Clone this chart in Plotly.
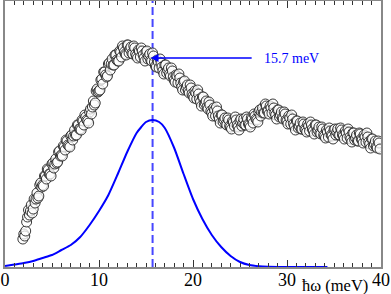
import plotly.graph_objects as go

# Measured spectrum (open circles), arbitrary intensity units — two interleaved scans
data_x = [1.9, 2.0, 2.2, 2.4, 2.6, 2.8, 3.0, 3.2, 3.4, 3.6, 3.8, 4.0, 4.2, 4.4, 4.6, 4.8,
          5.0, 5.2, 5.4, 5.6, 5.8, 6.0, 6.2, 6.4, 6.6, 6.8, 7.0, 7.2, 7.4, 7.6, 7.8,
          8.0, 8.2, 8.4, 8.6, 8.8, 9.0, 9.2, 9.4, 9.6, 9.8, 10.0, 10.2, 10.4, 10.6, 10.8,
          11.0, 11.2, 11.4, 11.6, 11.8, 12.0, 12.2, 12.4, 12.6, 12.8, 13.0, 13.2, 13.4, 13.6, 13.8,
          14.0, 14.2, 14.4, 14.6, 14.8, 15.0, 15.2, 15.4, 15.6, 15.8, 16.0, 16.2, 16.4, 16.6, 16.8,
          17.0, 17.2, 17.4, 17.6, 17.8, 18.0, 18.2, 18.4, 18.6, 18.8, 19.0, 19.2, 19.4, 19.6, 19.8,
          20.0, 20.2, 20.4, 20.6, 20.8, 21.0, 21.2, 21.4, 21.6, 21.8, 22.0, 22.2, 22.4, 22.6, 22.8,
          23.0, 23.2, 23.4, 23.6, 23.8, 24.0, 24.2, 24.4, 24.6, 24.8, 25.0, 25.2, 25.4, 25.6, 25.8,
          26.0, 26.2, 26.4, 26.6, 26.8, 27.0, 27.2, 27.4, 27.6, 27.8, 28.0, 28.2, 28.4, 28.6, 28.8,
          29.0, 29.2, 29.4, 29.6, 29.8, 30.0, 30.2, 30.4, 30.6, 30.8, 31.0, 31.2, 31.4, 31.6, 31.8,
          32.0, 32.2, 32.4, 32.6, 32.8, 33.0, 33.2, 33.4, 33.6, 33.8, 34.0, 34.2, 34.4, 34.6, 34.8,
          35.0, 35.2, 35.4, 35.6, 35.8, 36.0, 36.2, 36.4, 36.6, 36.8, 37.0, 37.2, 37.4, 37.6, 37.8,
          38.0, 38.2, 38.4, 38.6, 38.8, 39.0, 39.2, 39.4, 39.6, 39.8]
data_y = [28, 33, 36, 50, 52, 62, 58, 64, 74, 71, 84, 82, 91, 88, 97, 93,
          103, 99, 108, 105, 116, 112, 121, 117, 126, 121, 131, 127, 137, 132, 142,
          138, 147, 142, 150, 146, 155, 153, 166, 164, 178, 176, 187, 183, 195, 190,
          203, 197, 208, 202, 212, 206, 216, 210, 219, 213, 222, 214, 220, 213, 219,
          211, 217, 210, 216, 209, 215, 208, 213, 206, 211, 201, 207, 199, 204, 196,
          202, 194, 199, 191, 196, 187, 192, 184, 189, 180, 185, 177, 182, 174, 179,
          171, 176, 168, 173, 165, 170, 162, 166, 158, 162, 154, 159, 151, 156, 148,
          152, 145, 149, 142, 147, 140, 146, 141, 147, 140, 146, 141, 148, 142, 148,
          142, 149, 144, 151, 147, 155, 151, 159, 154, 161, 156, 161, 154, 159, 152,
          157, 150, 155, 148, 153, 146, 151, 143, 148, 141, 146, 139, 144, 138, 143,
          137, 143, 136, 142, 136, 142, 135, 140, 133, 138, 131, 137, 130, 136, 131,
          137, 132, 138, 132, 137, 131, 136, 129, 135, 128, 134, 127, 132, 126, 133,
          127, 132, 125, 130, 123, 128, 121, 126, 119, 124]

data_x2 = [2.1, 2.3, 2.5, 2.7, 2.9, 3.1, 3.3, 3.5, 3.7, 3.9, 4.1, 4.3, 4.5, 4.7, 4.9,
           5.1, 5.3, 5.5, 5.7, 5.9, 6.1, 6.3, 6.5, 6.7, 6.9, 7.1, 7.3, 7.5, 7.7, 7.9,
           8.1, 8.3, 8.5, 8.7, 8.9, 9.1, 9.3, 9.5, 9.7, 9.9, 10.1, 10.3, 10.5, 10.7, 10.9,
           11.1, 11.3, 11.5, 11.7, 11.9, 12.1, 12.3, 12.5, 12.7, 12.9, 13.1, 13.3, 13.5, 13.7, 13.9,
           14.1, 14.3, 14.5, 14.7, 14.9, 15.1, 15.3, 15.5, 15.7, 15.9, 16.1, 16.3, 16.5, 16.7, 16.9,
           17.1, 17.3, 17.5, 17.7, 17.9, 18.1, 18.3, 18.5, 18.7, 18.9, 19.1, 19.3, 19.5, 19.7, 19.9,
           20.1, 20.3, 20.5, 20.7, 20.9, 21.1, 21.3, 21.5, 21.7, 21.9, 22.1, 22.3, 22.5, 22.7, 22.9,
           23.1, 23.3, 23.5, 23.7, 23.9, 24.1, 24.3, 24.5, 24.7, 24.9, 25.1, 25.3, 25.5, 25.7, 25.9,
           26.1, 26.3, 26.5, 26.7, 26.9, 27.1, 27.3, 27.5, 27.7, 27.9, 28.1, 28.3, 28.5, 28.7, 28.9,
           29.1, 29.3, 29.5, 29.7, 29.9, 30.1, 30.3, 30.5, 30.7, 30.9, 31.1, 31.3, 31.5, 31.7, 31.9,
           32.1, 32.3, 32.5, 32.7, 32.9, 33.1, 33.3, 33.5, 33.7, 33.9, 34.1, 34.3, 34.5, 34.7, 34.9,
           35.1, 35.3, 35.5, 35.7, 35.9, 36.1, 36.3, 36.5, 36.7, 36.9, 37.1, 37.3, 37.5, 37.7, 37.9,
           38.1, 38.3, 38.5, 38.7, 38.9, 39.1, 39.3, 39.5, 39.7, 39.9]
data_y2 = [31, 45, 57, 56, 54, 68, 68, 69, 82, 80, 81, 91, 98, 93, 91,
           104, 103, 104, 115, 111, 111, 120, 127, 122, 120, 132, 131, 132, 142, 138,
           137, 146, 152, 147, 144, 158, 160, 162, 176, 175, 177, 188, 195, 192, 191,
           204, 203, 202, 212, 207, 206, 215, 221, 215, 212, 222, 218, 214, 221, 213,
           209, 216, 219, 212, 206, 216, 211, 207, 214, 205, 200, 205, 208, 200, 193,
           202, 197, 193, 199, 190, 185, 191, 193, 184, 177, 186, 180, 176, 182, 173,
           169, 174, 177, 168, 161, 170, 164, 160, 165, 156, 151, 157, 160, 151, 144,
           152, 147, 143, 149, 141, 138, 145, 150, 142, 137, 148, 144, 142, 150, 143,
           140, 148, 153, 148, 145, 157, 155, 154, 163, 156, 153, 159, 163, 154, 148,
           157, 152, 149, 155, 147, 143, 149, 152, 143, 137, 146, 141, 138, 145, 138,
           135, 141, 145, 138, 133, 142, 137, 134, 140, 132, 129, 135, 139, 132, 128,
           138, 135, 132, 139, 132, 128, 134, 138, 130, 125, 134, 129, 126, 134, 128,
           124, 130, 134, 125, 119, 128, 123, 120, 126, 118]

# Model curve (blue line)
fit_x = [0, 1, 2, 3, 4, 5, 6, 7, 8, 9, 10, 11, 12, 13, 14, 14.5, 15, 15.7, 16.4, 17, 18,
         19, 20, 21, 22, 23, 24, 25, 26, 27, 28, 30, 32, 34.3]
fit_y = [1, 2.5, 4, 6, 9, 12, 17, 22, 30, 42, 56, 72, 93, 115, 134, 140, 145, 147, 145, 139, 119,
         93, 68, 48, 32, 20, 11, 5, 2, 0.8, 0.3, 0.1, 0, 0]

peak_x = 15.7
peak_label = "15.7 meV"
x_title = "ħω (meV)"
tick_vals = [0, 10, 20, 30, 40]
tick_text = ["0", "10", "20", "30", "40"]

serif = "Liberation Serif, Times New Roman, serif"

all_x = data_x + data_x2
all_y = data_y + data_y2
order = sorted(range(len(all_x)), key=lambda i: all_x[i])

fig = go.Figure()
fig.add_trace(go.Scatter(
    x=[peak_x, peak_x], y=[0, 266], mode="lines",
    line=dict(color="#4646ff", width=2, dash="8px,4px"), hoverinfo="skip"))
fig.add_trace(go.Scatter(
    x=fit_x, y=fit_y, mode="lines", line=dict(color="#0000ff", width=2, shape="spline", smoothing=0.6)))
fig.add_trace(go.Scatter(
    x=[all_x[i] for i in order], y=[all_y[i] for i in order], mode="markers",
    marker=dict(symbol="circle", size=10, color="rgba(255,255,255,0.75)",
                line=dict(width=0.9, color="#222222"))))

fig.add_annotation(x=15.5, y=209, ax=26.4, ay=209, xref="x", yref="y", axref="x", ayref="y",
                   text="", showarrow=True, arrowhead=2, arrowsize=1.2, arrowwidth=1.3,
                   arrowcolor="#0000ff")
fig.add_annotation(x=27.3, y=209, xref="x", yref="y", text=peak_label, showarrow=False,
                   xanchor="left", yanchor="middle", font=dict(family=serif, size=14, color="#0000ff"))
fig.add_annotation(x=35.1, y=-18 / 266, xref="x", yref="paper", text=x_title, showarrow=False,
                   xanchor="center", yanchor="middle", font=dict(family=serif, size=16.5, color="#000000"))

fig.update_layout(
    width=391, height=294,
    margin=dict(l=5, r=10, t=1, b=27, autoexpand=False),
    paper_bgcolor="white", plot_bgcolor="white",
    showlegend=False,
    xaxis=dict(range=[0, 40], showgrid=False, zeroline=False, automargin=False,
               showline=True, linecolor="#888888", linewidth=2, mirror="ticks",
               ticks="inside", ticklen=7, tickwidth=1, tickcolor="#333333",
               tickvals=tick_vals, ticktext=tick_text,
               tickfont=dict(family=serif, size=18, color="#000000"),
               minor=dict(dtick=1, ticks="inside", ticklen=4, tickwidth=1, tickcolor="#333333"),
               ticklabelstandoff=-5),
    yaxis=dict(range=[0, 266], showgrid=False, zeroline=False, showticklabels=False, automargin=False,
               showline=True, linecolor="#888888", linewidth=2, mirror=True, ticks=""),
)

fig.write_html("out.html", config={"displayModeBar": False},
               post_script="document.body.style.margin='0';")
